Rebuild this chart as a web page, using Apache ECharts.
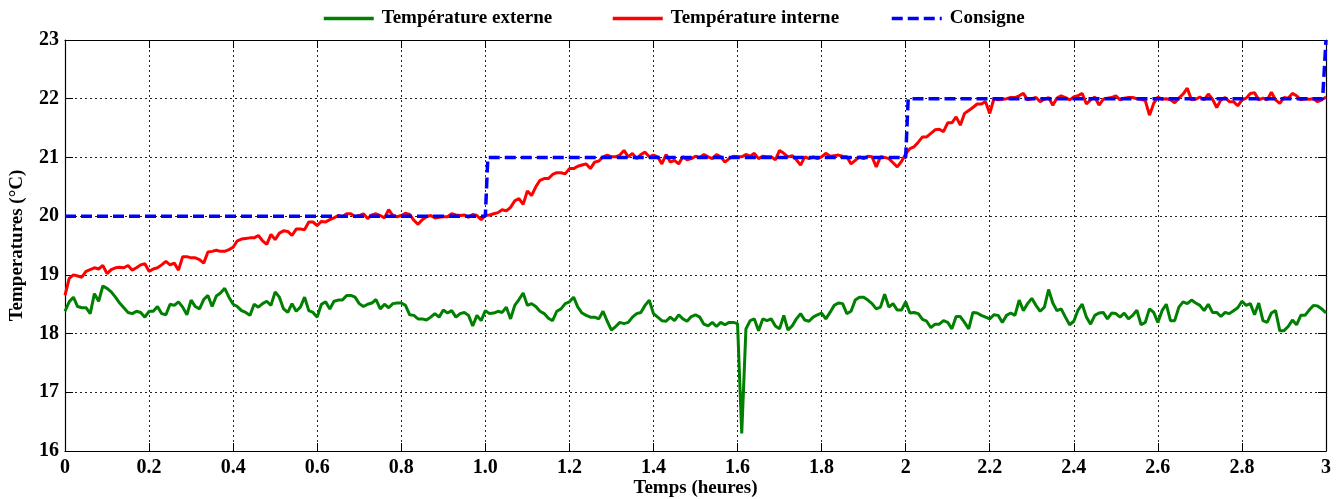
<!DOCTYPE html>
<html>
<head>
<meta charset="utf-8">
<script src="https://cdn.jsdelivr.net/npm/echarts@6/dist/echarts.min.js"></script>
<style>
  html, body { margin: 0; padding: 0; background: #fff; }
  #chart { width: 1344px; height: 499px; }
</style>
</head>
<body>
<div id="chart"></div>
<script>
// Sampling period of the recorded temperatures (hours)
const SAMPLE_STEP = 0.01;

// Outdoor temperature (°C), one reading every SAMPLE_STEP from 0 h to 3 h
const tempExterne = [
  18.38, 18.54, 18.62, 18.46, 18.44, 18.44, 18.34, 18.68, 18.55, 18.81,
  18.77, 18.71, 18.62, 18.52, 18.44, 18.36, 18.34, 18.38, 18.36, 18.28,
  18.38, 18.38, 18.46, 18.34, 18.32, 18.50, 18.48, 18.54, 18.45, 18.32,
  18.57, 18.46, 18.42, 18.58, 18.65, 18.46, 18.64, 18.69, 18.77, 18.62,
  18.50, 18.46, 18.39, 18.36, 18.31, 18.50, 18.45, 18.51, 18.55, 18.48,
  18.71, 18.62, 18.42, 18.36, 18.51, 18.38, 18.45, 18.62, 18.39, 18.36,
  18.28, 18.50, 18.54, 18.42, 18.55, 18.57, 18.57, 18.65, 18.65, 18.62,
  18.51, 18.46, 18.50, 18.52, 18.58, 18.42, 18.50, 18.44, 18.51, 18.52,
  18.52, 18.48, 18.32, 18.31, 18.25, 18.25, 18.23, 18.28, 18.34, 18.28,
  18.40, 18.35, 18.39, 18.28, 18.34, 18.36, 18.31, 18.13, 18.31, 18.22,
  18.39, 18.34, 18.35, 18.38, 18.36, 18.45, 18.25, 18.48, 18.58, 18.69,
  18.48, 18.51, 18.46, 18.38, 18.34, 18.26, 18.22, 18.38, 18.42, 18.51,
  18.54, 18.62, 18.45, 18.35, 18.31, 18.28, 18.28, 18.25, 18.38, 18.21,
  18.06, 18.12, 18.19, 18.17, 18.19, 18.28, 18.34, 18.36, 18.48, 18.57,
  18.34, 18.28, 18.22, 18.21, 18.28, 18.22, 18.32, 18.25, 18.21, 18.29,
  18.32, 18.28, 18.16, 18.13, 18.19, 18.12, 18.19, 18.15, 18.19, 18.19,
  18.17, 16.30, 18.08, 18.22, 18.25, 18.05, 18.25, 18.22, 18.25, 18.13,
  18.08, 18.31, 18.06, 18.13, 18.25, 18.34, 18.23, 18.21, 18.28, 18.32,
  18.35, 18.25, 18.36, 18.48, 18.52, 18.51, 18.34, 18.38, 18.57, 18.62,
  18.62, 18.57, 18.51, 18.42, 18.45, 18.67, 18.45, 18.51, 18.40, 18.40,
  18.54, 18.35, 18.36, 18.34, 18.24, 18.21, 18.10, 18.16, 18.16, 18.22,
  18.19, 18.08, 18.29, 18.29, 18.19, 18.08, 18.36, 18.35, 18.31, 18.28,
  18.25, 18.32, 18.31, 18.19, 18.31, 18.35, 18.31, 18.57, 18.39, 18.51,
  18.60, 18.48, 18.38, 18.45, 18.75, 18.52, 18.39, 18.42, 18.28, 18.15,
  18.21, 18.40, 18.50, 18.28, 18.16, 18.31, 18.35, 18.36, 18.25, 18.35,
  18.34, 18.28, 18.35, 18.25, 18.31, 18.40, 18.15, 18.19, 18.42, 18.36,
  18.19, 18.39, 18.50, 18.22, 18.22, 18.45, 18.54, 18.51, 18.57, 18.52,
  18.48, 18.39, 18.50, 18.36, 18.36, 18.29, 18.36, 18.34, 18.39, 18.44,
  18.55, 18.48, 18.51, 18.32, 18.52, 18.22, 18.19, 18.35, 18.39, 18.05,
  18.05, 18.12, 18.23, 18.15, 18.31, 18.31, 18.40, 18.48, 18.47, 18.42,
  18.35
];

// Indoor temperature (°C), same sampling
const tempInterne = [
  18.65, 18.94, 19.00, 18.98, 18.96, 19.06, 19.09, 19.12, 19.10, 19.16,
  19.02, 19.09, 19.12, 19.13, 19.12, 19.16, 19.08, 19.12, 19.17, 19.19,
  19.06, 19.10, 19.12, 19.17, 19.23, 19.17, 19.20, 19.08, 19.31, 19.31,
  19.29, 19.29, 19.26, 19.20, 19.39, 19.40, 19.42, 19.40, 19.40, 19.43,
  19.47, 19.58, 19.61, 19.62, 19.63, 19.63, 19.67, 19.58, 19.52, 19.69,
  19.60, 19.71, 19.75, 19.74, 19.67, 19.78, 19.78, 19.77, 19.90, 19.90,
  19.84, 19.91, 19.90, 19.94, 19.97, 20.01, 19.99, 20.04, 20.04, 19.99,
  20.01, 20.04, 19.96, 20.02, 20.04, 20.01, 19.97, 20.11, 20.01, 19.99,
  20.01, 20.05, 20.03, 19.93, 19.86, 19.94, 19.99, 20.01, 19.97, 19.98,
  19.99, 19.99, 20.04, 20.02, 20.01, 20.02, 19.98, 20.03, 20.01, 19.94,
  20.01, 20.02, 20.04, 20.06, 20.11, 20.09, 20.15, 20.26, 20.30, 20.20,
  20.43, 20.35, 20.50, 20.61, 20.64, 20.64, 20.71, 20.74, 20.74, 20.72,
  20.81, 20.81, 20.85, 20.87, 20.89, 20.81, 20.92, 20.94, 21.01, 21.04,
  21.01, 21.01, 21.04, 21.12, 21.01, 21.07, 20.98, 21.05, 21.09, 21.01,
  21.04, 21.01, 20.89, 21.05, 20.92, 20.95, 20.89, 21.01, 20.96, 20.98,
  21.02, 21.00, 21.05, 21.01, 20.98, 21.05, 21.01, 20.92, 20.98, 21.02,
  21.01, 21.01, 21.05, 21.02, 21.07, 20.98, 21.02, 21.01, 21.01, 20.96,
  21.12, 21.07, 21.01, 21.03, 20.96, 20.87, 21.01, 20.98, 21.01, 20.98,
  21.01, 21.07, 21.02, 21.03, 21.04, 21.02, 21.01, 20.89, 20.95, 21.01,
  20.98, 21.02, 21.01, 20.84, 21.01, 21.00, 20.98, 20.91, 20.84, 20.93,
  21.06, 21.15, 21.18, 21.26, 21.35, 21.35, 21.41, 21.47, 21.48, 21.44,
  21.59, 21.59, 21.69, 21.55, 21.75, 21.80, 21.85, 21.91, 21.91, 21.95,
  21.75, 22.00, 21.98, 21.99, 22.00, 22.02, 22.02, 22.05, 22.09, 21.98,
  22.00, 22.02, 21.95, 21.99, 22.02, 21.89, 22.01, 22.05, 22.02, 21.98,
  22.03, 22.05, 22.09, 21.91, 21.98, 22.03, 21.89, 21.99, 22.01, 22.02,
  22.05, 21.98, 22.01, 22.02, 22.02, 22.00, 21.99, 21.97, 21.72, 21.92,
  22.03, 21.99, 22.00, 21.98, 21.93, 22.01, 22.08, 22.18, 21.98, 21.99,
  22.03, 21.98, 22.08, 21.99, 21.85, 21.98, 22.02, 21.95, 21.95, 21.88,
  21.98, 22.01, 22.09, 22.10, 21.98, 22.01, 21.98, 22.11, 21.98, 21.92,
  22.02, 22.01, 22.09, 22.05, 21.98, 22.00, 21.99, 22.00, 21.95, 21.98,
  22.03
];

// Set-point profile (steps)
const consigneTimes  = [0, 1.0, 1.006, 2.0, 2.006, 2.992, 3.0];
const consigneValues = [20, 20, 21, 21, 22, 22, 23];

// Axis tick labels
const xTickLabels = ['0', '0.2', '0.4', '0.6', '0.8', '1.0', '1.2', '1.4', '1.6', '1.8',
                     '2', '2.2', '2.4', '2.6', '2.8', '3'];
const yTickLabels = ['16', '17', '18', '19', '20', '21', '22', '23'];

const seriesNames = ['Température externe', 'Température interne', 'Consigne'];

const withTime = vals => vals.map((v, i) => [+(i * SAMPLE_STEP).toFixed(2), v]);
const consigneData = consigneTimes.map((t, i) => [t, consigneValues[i]]);

const FONT = 'Liberation Serif';
const labelStyle = { fontFamily: FONT, fontWeight: 'bold', fontSize: 19, color: '#000' };
const tickStyle = { fontFamily: FONT, fontWeight: 'bold', fontSize: 20, color: '#000' };
const gridLine = { show: true, lineStyle: { color: '#222', width: 1, type: [2, 3] } };
const boxLine = { show: true, onZero: false, lineStyle: { color: '#000', width: 1.2 } };
const innerTick = { show: true, inside: true, length: 8, lineStyle: { color: '#000', width: 1 } };

// One legend block per series, laid out side by side above the plot
const legendLefts = [322, 611, 890];
const legends = seriesNames.map((name, i) => ({
  left: legendLefts[i], top: 9, padding: 0,
  itemWidth: 50, itemHeight: 16,
  itemStyle: { opacity: 0 },
  lineStyle: { width: 3.5 },
  textStyle: Object.assign({ padding: [0, 0, 0, 3] }, labelStyle),
  data: [name]
}));

const chart = echarts.init(document.getElementById('chart'), null, { renderer: 'canvas' });
chart.setOption({
  animation: false,
  backgroundColor: '#fff',
  grid: { left: 65, right: 18, top: 40, bottom: 48, outerBoundsMode: 'none', containLabel: false },
  legend: legends,
  xAxis: [
    {
      type: 'value', min: 0, max: 3, interval: 0.2,
      name: 'Temps (heures)', nameLocation: 'middle', nameGap: 28, nameMoveOverlap: false,
      nameTextStyle: labelStyle,
      axisLine: boxLine, axisTick: innerTick, splitLine: gridLine,
      axisLabel: Object.assign({
        margin: 7,
        formatter: v => xTickLabels[Math.round(v / 0.2)]
      }, tickStyle)
    },
    {
      type: 'value', position: 'top', min: 0, max: 3, interval: 0.2,
      axisLine: boxLine, axisTick: innerTick,
      axisLabel: { show: false }, splitLine: { show: false }
    }
  ],
  yAxis: [
    {
      type: 'value', min: 16, max: 23, interval: 1,
      name: 'Temperatures (°C)', nameLocation: 'middle', nameGap: 38, nameRotate: 90,
      nameMoveOverlap: false,
      nameTextStyle: labelStyle,
      axisLine: boxLine, axisTick: innerTick, splitLine: gridLine,
      axisLabel: Object.assign({
        margin: 6,
        formatter: v => yTickLabels[Math.round(v - 16)]
      }, tickStyle)
    },
    {
      type: 'value', position: 'right', min: 16, max: 23, interval: 1,
      axisLine: boxLine, axisTick: innerTick,
      axisLabel: { show: false }, splitLine: { show: false }
    }
  ],
  series: [
    {
      name: seriesNames[0], type: 'line', data: withTime(tempExterne),
      showSymbol: false, symbol: 'none',
      lineStyle: { color: '#008000', width: 3 }, itemStyle: { color: '#008000' }
    },
    {
      name: seriesNames[1], type: 'line', data: withTime(tempInterne),
      showSymbol: false, symbol: 'none',
      lineStyle: { color: '#ff0000', width: 3 }, itemStyle: { color: '#ff0000' }
    },
    {
      name: seriesNames[2], type: 'line', data: consigneData,
      showSymbol: false, symbol: 'none',
      lineStyle: { color: '#0000ff', width: 3.5, type: [11, 5] }, itemStyle: { color: '#0000ff' }
    }
  ]
});
</script>
</body>
</html>
